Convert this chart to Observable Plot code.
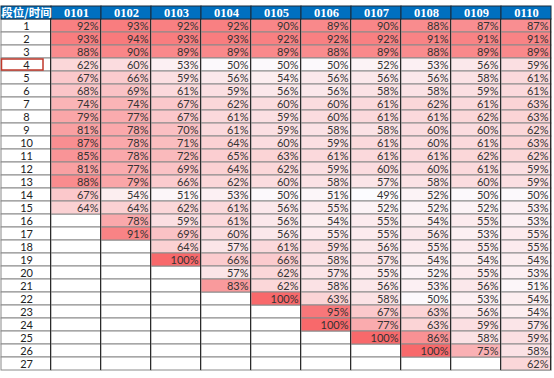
<!DOCTYPE html>
<html>
<head>
<meta charset="utf-8">
<script src="https://cdn.jsdelivr.net/npm/d3@7"></script>
<script src="https://cdn.jsdelivr.net/npm/@observablehq/plot@0.6"></script>
<style>
  html, body { margin: 0; padding: 0; background: #ffffff; }
  #chart { width: 554px; height: 378px; overflow: hidden; }
</style>
</head>
<body>
<div id="chart"></div>
<script>
// ---- data (percent), one array per date column; null = empty cell ----
const cornerLabel = "段位/时间";
const columns = ["0101", "0102", "0103", "0104", "0105", "0106", "0107", "0108", "0109", "0110"];
const rowLabels = ["1","2","3","4","5","6","7","8","9","10","11","12","13","14","15","16","17","18","19","20","21","22","23","24","25","26","27"];

const c0101 = [92,93,88,62,67,68,74,79,81,87,85,81,88,67,64,null,null,null,null,null,null,null,null,null,null,null,null];
const c0102 = [93,94,90,60,66,69,74,77,78,78,78,77,79,54,64,78,91,null,null,null,null,null,null,null,null,null,null];
const c0103 = [92,93,89,53,59,61,67,67,70,71,72,69,66,51,62,59,69,64,100,null,null,null,null,null,null,null,null];
const c0104 = [92,93,89,50,56,59,62,61,61,64,65,64,62,53,61,61,60,57,66,57,83,null,null,null,null,null,null];
const c0105 = [90,92,89,50,54,56,60,59,59,60,63,62,60,50,56,56,56,61,66,62,62,100,null,null,null,null,null];
const c0106 = [89,92,88,50,56,56,60,60,58,59,61,59,58,51,55,54,55,59,58,57,58,63,95,100,null,null,null];
const c0107 = [90,92,89,52,56,58,61,61,58,61,61,60,57,49,52,55,55,56,57,55,56,58,67,77,100,null,null];
const c0108 = [88,91,88,53,56,58,62,61,60,60,61,60,58,52,52,54,56,55,54,52,53,50,63,63,86,100,null];
const c0109 = [87,91,89,56,58,59,61,62,60,61,62,61,60,50,52,55,53,55,54,55,56,53,56,59,58,75,null];
const c0110 = [87,91,89,59,61,61,63,63,62,63,62,59,59,50,53,53,55,55,54,53,51,54,54,57,59,58,62];

const seriesByColumn = [c0101, c0102, c0103, c0104, c0105, c0106, c0107, c0108, c0109, c0110];

// ---- build tables ----
const cells = [];
columns.forEach((col, j) => {
  seriesByColumn[j].forEach((v, i) => {
    if (v != null) cells.push({col, row: rowLabels[i], v});
  });
});
const allCols = ["label", ...columns];
const grid = [];
allCols.forEach(col => rowLabels.forEach(row => grid.push({col, row})));
const headerDates = columns.map(col => ({col, text: col}));

const xRange = [1, 551];
const bw = (xRange[1] - xRange[0]) / allCols.length;

const chart = Plot.plot({
  width: 554,
  height: 378,
  margin: 0,
  style: {fontFamily: "Lato, 'Liberation Sans', sans-serif", fontSize: "11px", background: "#ffffff"},
  x: {domain: allCols, range: xRange, padding: 0, axis: null},
  y: {domain: ["head", ...rowLabels], range: [0, 376], padding: 0, axis: null},
  color: {type: "linear", domain: [49, 100], range: ["#FCFCFF", "#F8696B"], interpolate: "rgb"},
  marks: [
    // background body cells with light horizontal grid
    Plot.cell(grid, {x: "col", y: "row", fill: "#ffffff", stroke: "#8a8a8a", strokeWidth: 1}),
    // coloured data cells
    Plot.cell(cells, {x: "col", y: "row", fill: "v", stroke: "#8a8a8a", strokeWidth: 1}),
    // dark vertical separators at the right edge of each column
    Plot.cell(grid, {x: "col", y: "row", fill: "#2b2b2b", insetLeft: bw - 1}),
    // header
    Plot.cell(allCols, {x: d => d, y: () => "head", fill: "#0070C0", stroke: "#1b2a3a", strokeWidth: 1}),
    Plot.text([cornerLabel], {x: () => "label", y: () => "head", text: d => d, fill: "#ffffff", fontWeight: "bold",
      fontSize: 11.5, fontFamily: "'Noto Sans CJK SC', sans-serif"}),
    Plot.text(headerDates, {x: "col", y: () => "head", text: "text", fill: "#ffffff", fontWeight: "bold",
      fontSize: 12.5, fontFamily: "'Liberation Serif', serif"}),
    // row labels
    Plot.text(rowLabels, {x: () => "label", y: d => d, text: d => d, fill: "#222222", fontSize: 11}),
    // selected cell outline
    Plot.cell(["4"], {x: () => "label", y: d => d, fill: "none", stroke: "#C0392B", strokeWidth: 1.5,
      insetLeft: 0.5, insetRight: 8, insetTop: 1, insetBottom: 1}),
    // values
    Plot.text(cells, {x: "col", y: "row", text: d => d.v + "%", textAnchor: "end", dx: bw / 2 - 3,
      fill: "#333333", fontSize: 11})
  ]
});
document.getElementById("chart").appendChild(chart);
</script>
</body>
</html>
